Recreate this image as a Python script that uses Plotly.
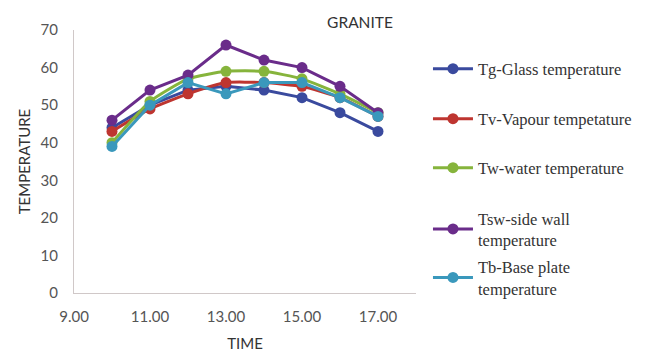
import plotly.graph_objects as go

time = [10, 11, 12, 13, 14, 15, 16, 17]
tg = [44, 50, 54, 55, 54, 52, 48, 43]
tv = [43, 49, 53, 56, 56, 55, 52, 47]
tw = [40, 51, 57, 59, 59, 57, 53, 48]
tsw = [46, 54, 58, 66, 62, 60, 55, 48]
tb = [39, 50, 56, 53, 56, 56, 52, 47]

names = ["Tg-Glass temperature", "Tv-Vapour tempetature", "Tw-water temperature",
         "Tsw-side wall<br>temperature", "Tb-Base plate<br>temperature"]
series = [tg, tv, tw, tsw, tb]
colors = ["#3a4a9e", "#be3530", "#86b43c", "#6a2c8a", "#3a98bc"]
shapes = ["linear", "spline", "spline", "linear", "linear"]

# legend item centres (pixel rows in the 352px-high image)
leg_rows = [69, 119, 168, 229, 277.5]
PLOT_TOP, PLOT_BOT = 30, 293

fig = go.Figure()
legend_layouts = {}
for i, (n, s, c, sh) in enumerate(zip(names, series, colors, shapes)):
    lg = "legend" if i == 0 else f"legend{i + 1}"
    fig.add_trace(go.Scatter(
        x=time, y=s, name=n, mode="lines+markers", legend=lg, showlegend=True,
        line=dict(color=c, width=3, shape=sh, smoothing=0.5),
        marker=dict(color=c, size=11),
    ))
    legend_layouts[lg] = dict(
        x=1.035, y=(PLOT_BOT - leg_rows[i]) / (PLOT_BOT - PLOT_TOP),
        xanchor="left", yanchor="middle",
        font=dict(family="Liberation Serif", size=16.5, color="#333333"),
        itemwidth=40, bgcolor="rgba(0,0,0,0)",
    )

fig.update_layout(
    width=652, height=352, showlegend=True,
    margin=dict(l=74, r=236, t=30, b=59),
    paper_bgcolor="white", plot_bgcolor="white",
    title=dict(text="GRANITE", x=360 / 652, xref="container", xanchor="center",
               y=1 - 23 / 352, yref="container", yanchor="middle",
               font=dict(family="Lato", size=15.5, color="#333333")),
    xaxis=dict(range=[9, 18], tickvals=[9, 11, 13, 15, 17],
               ticktext=["9.00", "11.00", "13.00", "15.00", "17.00"],
               showgrid=False, zeroline=False, showline=True, linecolor="#d0c8c8",
               ticks="", ticklabelstandoff=10, automargin=False,
               tickfont=dict(family="Lato", size=15, color="#555555"),
               title=dict(text="TIME", font=dict(family="Lato", size=15, color="#333333"), standoff=16)),
    yaxis=dict(range=[0, 70], dtick=10, showgrid=False, zeroline=False,
               showline=True, linecolor="#d0c8c8", ticks="", ticklabelstandoff=12,
               automargin=False,
               tickfont=dict(family="Lato", size=15, color="#555555"),
               title=dict(text="TEMPERATURE", font=dict(family="Lato", size=15, color="#333333"), standoff=6)),
    **legend_layouts,
)

fig.write_html("out.html")
